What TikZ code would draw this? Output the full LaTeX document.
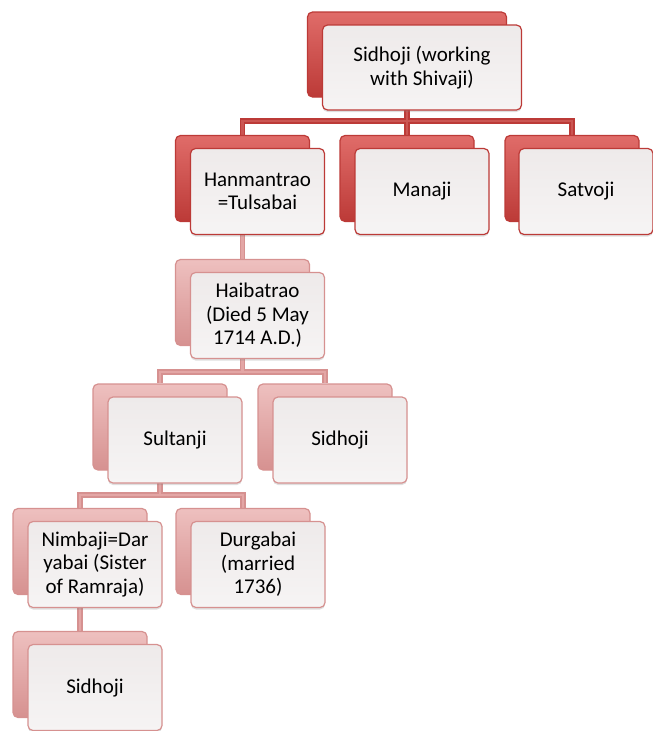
\documentclass[tikz,border=0pt]{standalone}
\usepackage{fontspec}
\setmainfont{Carlito}
\usetikzlibrary{backgrounds,shadows}

\definecolor{cardred}{HTML}{BC3A37}
\definecolor{cardredlight}{HTML}{E06C69}
\definecolor{linkredcore}{HTML}{CB5552}
\definecolor{cardpink}{HTML}{D69190}
\definecolor{cardpinklight}{HTML}{EEC0BF}
\definecolor{linkpinkcore}{HTML}{E3A6A5}
\definecolor{cardface}{HTML}{EEEAEA}
\definecolor{cardfacelow}{HTML}{F6F4F4}

\begin{document}
\begin{tikzpicture}[
    x=1pt, y=-1pt,
    every node/.style={align=center, font=\fontsize{21}{23.5}\selectfont},
    card/.style={rounded corners=5pt, minimum width=134pt, minimum height=86pt, line width=1.2pt},
    back red/.style={card, top color=cardredlight, bottom color=cardred, draw=cardred},
    back pink/.style={card, top color=cardpinklight, bottom color=cardpink, draw=cardpink},
    front red/.style={card, draw=cardred, top color=cardface, bottom color=cardfacelow,
        drop shadow={shadow xshift=0pt, shadow yshift=-2pt, opacity=.25}},
    front pink/.style={card, draw=cardpink, top color=cardface, bottom color=cardfacelow,
        drop shadow={shadow xshift=0pt, shadow yshift=-2pt, opacity=.25}},
    wide/.style={minimum width=199pt, minimum height=85pt},
    link red/.style={draw=linkredcore, line width=2.5pt, preaction={draw=cardred, line width=5.5pt}},
    link pink/.style={draw=linkpinkcore, line width=2.5pt, preaction={draw=cardpink, line width=5.5pt}},
    ]
\useasboundingbox (0,0) rectangle (653,731);
% level 0
\node[back red, wide] (topB) at (407,54.5) {};
\node[front red, wide] (top) at (422,67.5) {Sidhoji (working\\with Shivaji)};
% level 1
\node[back red] (hanB) at (242.5,178.5) {};
\node[front red] (han) at (257.5,191.5) {Hanmantrao\\=Tulsabai};
\node[back red] (manB) at (407,178.5) {};
\node[front red] (man) at (422,191.5) {Manaji};
\node[back red] (satB) at (572,178.5) {};
\node[front red] (sat) at (586,191.5) {Satvoji};
% level 2
\node[back pink] (haiB) at (242.5,302.5) {};
\node[front pink] (hai) at (257.5,315.5) {Haibatrao\\(Died 5 May\\1714 A.D.)};
% level 3
\node[back pink] (sulB) at (160,427) {};
\node[front pink] (sul) at (175,440) {Sultanji};
\node[back pink] (sidB) at (325,427) {};
\node[front pink] (sid) at (340,440) {Sidhoji};
% level 4
\node[back pink] (nimB) at (80,551.5) {};
\node[front pink] (nim) at (95,564.5) {Nimbaji=Dar\\yabai (Sister\\of Ramraja)};
\node[back pink] (durB) at (243,551.5) {};
\node[front pink] (dur) at (258,564.5) {Durgabai\\(married\\1736)};
% level 5
\node[back pink] (sidnB) at (80,674.5) {};
\node[front pink] (sidn) at (95,687.5) {Sidhoji};
% connectors
\coordinate (bar0) at (407,121);
\coordinate (bar2) at (242.5,372);
\coordinate (bar3) at (160,495);
\begin{pgfonlayer}{background}
\draw[link red] (topB.center) -- (bar0) -| (hanB.north)
    (bar0) -| (satB.north) (bar0) -- (manB.north);
\draw[link pink] (hanB.center) -- (haiB.north);
\draw[link pink] (haiB.center) -- (bar2) -| (sulB.north)
    (bar2) -| (sidB.north);
\draw[link pink] (sulB.center) -- (bar3) -| (nimB.north)
    (bar3) -| (durB.north);
\draw[link pink] (nimB.center) -- (sidnB.north);
\end{pgfonlayer}
\end{tikzpicture}
\end{document}
